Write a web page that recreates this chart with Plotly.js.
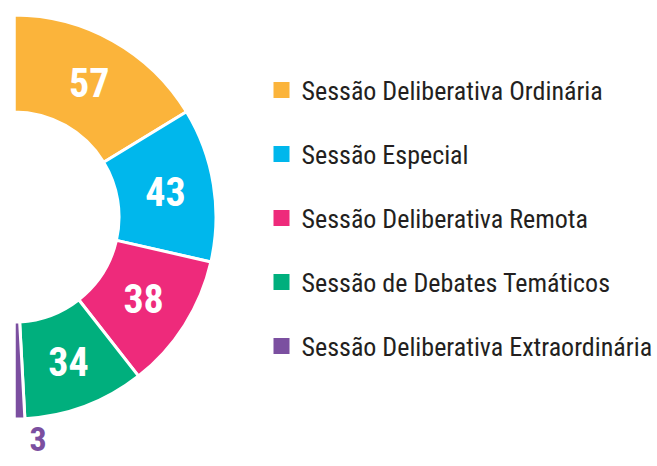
<!DOCTYPE html>
<html>
<head>
<meta charset="utf-8">
<script src="https://cdn.plot.ly/plotly-3.0.1.min.js"></script>
<style>
html,body{margin:0;padding:0;background:#fff;overflow:hidden;width:657px;height:466px;}
#chart{position:absolute;left:-200px;top:0;width:1100px;height:466px;}
</style>
</head>
<body>
<div id="chart"></div>
<script>
const categories = [
  "Sessão Deliberativa Ordinária",
  "Sessão Especial",
  "Sessão Deliberativa Remota",
  "Sessão de Debates Temáticos",
  "Sessão Deliberativa Extraordinária"
];
const values = [57, 43, 38, 34, 3];
const colors = ["#FBB43B", "#00B7EC", "#EE2A7B", "#00AF7D", "#7B4FA0"];

const W = 1100, H = 466, OFF = 200;
const total = values.reduce((a, b) => a + b, 0);
const FONT = "Roboto Condensed, Roboto, sans-serif";

// half donut: a transparent slice equal to the total fills the unseen left half
const pieValues = values.concat([total]);
const pieLabels = categories.concat([" "]);
const pieColors = colors.concat(["rgba(0,0,0,0)"]);
const templates = values.map(() => "%{value}").concat([""]);
const positions = values.map(v => v < 10 ? "outside" : "inside").concat(["none"]);

const cx = 14 + OFF, cy = 217, R = 202;

const traces = [{
  type: "pie",
  values: pieValues,
  labels: pieLabels,
  sort: false,
  direction: "clockwise",
  rotation: 0,
  hole: 0.52,
  marker: {colors: pieColors, line: {color: "#ffffff", width: 3}},
  texttemplate: templates,
  textposition: positions,
  insidetextorientation: "horizontal",
  insidetextfont: {family: FONT, size: 40, color: "#ffffff", weight: "bold"},
  outsidetextfont: {family: FONT, size: 34, color: colors[4], weight: "bold"},
  showlegend: false,
  hoverinfo: "none",
  domain: {
    x: [(cx - R) / W, (cx + R) / W],
    y: [1 - (cy + R) / H, 1 - (cy - R) / H]
  }
}];

categories.forEach((c, i) => {
  traces.push({
    type: "scatter",
    mode: "markers",
    x: [null], y: [null],
    name: c,
    legendgroup: "g" + i,
    marker: {symbol: "square", size: 17, color: colors[i]},
    showlegend: true,
    hoverinfo: "none"
  });
});

const layout = {
  width: W, height: H,
  margin: {l: 0, r: 0, t: 0, b: 0},
  paper_bgcolor: "#ffffff",
  plot_bgcolor: "#ffffff",
  xaxis: {visible: false},
  yaxis: {visible: false},
  showlegend: true,
  legend: {
    x: (261.5 + OFF) / W, xanchor: "left",
    y: 1 - 66.7 / H, yanchor: "top",
    traceorder: "grouped",
    tracegroupgap: 27.2,
    font: {family: FONT, size: 26, color: "#231F20"},
    bgcolor: "rgba(0,0,0,0)"
  }
};

Plotly.newPlot("chart", traces, layout, {displayModeBar: false, staticPlot: true});
</script>
</body>
</html>
